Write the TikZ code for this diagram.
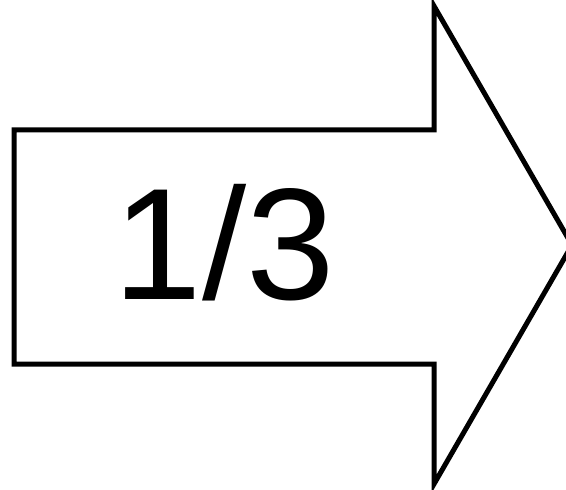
\documentclass[tikz,border=0pt]{standalone}
\usepackage{fontspec}
\setmainfont{Liberation Sans}
\begin{document}
\begin{tikzpicture}[x=1pt,y=-1pt,
  arrowshape/.style={draw=black,line width=5pt,line join=miter,fill=white},
  label/.style={font=\fontsize{159}{180}\selectfont,inner sep=0pt,anchor=base}]
\useasboundingbox (0,0) rectangle (566,490);
\clip (0,0) rectangle (566,490);
\coordinate (a) at (14.2,129.8);
\coordinate (b) at (434,129.8);
\coordinate (c) at (434,6);
\coordinate (d) at (572,245);
\coordinate (e) at (434,484);
\coordinate (f) at (434,364);
\coordinate (g) at (14.2,364);
\draw[arrowshape] (a) -- (b) -- (c) -- (d) -- (e) -- (f) -- (g) -- cycle;
\node[label] (t) at (224.2,299.3) {1/3};
\end{tikzpicture}
\end{document}
